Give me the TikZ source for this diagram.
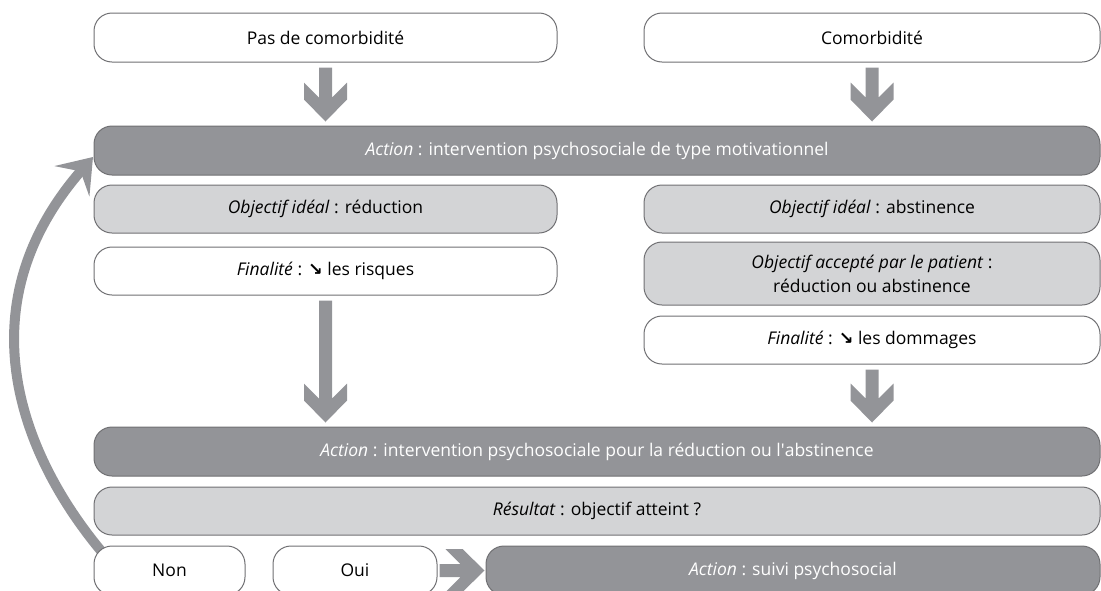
\documentclass[tikz,border=0pt]{standalone}
\usepackage{fontspec}
\setmainfont{Open Sans}
\newfontfamily\symfont{DejaVu Sans}
\usetikzlibrary{calc,arrows.meta}
\definecolor{actgray}{RGB}{147,148,152}
\definecolor{objgray}{RGB}{211,212,214}
\definecolor{linegray}{RGB}{112,112,115}
\tikzset{
  box/.style={draw=linegray, line width=1pt, rounded corners=18pt, minimum height=49pt,
    align=center, inner sep=0pt, font=\fontsize{17.5}{24}\selectfont},
  whitebox/.style={box, fill=white},
  objbox/.style={box, fill=objgray, minimum height=48pt},
  actbox/.style={box, fill=actgray, text=white},
  chev/.style={fill=actgray}
}
\newcommand{\down}{{\symfont\bfseries ↘}}
% thick down arrow from node #1 to node #2
\newcommand{\chevdown}[2]{%
  \coordinate (s) at ($(#1.south)+(0,5)$);
  \coordinate (t) at ($(#1.south |- #2.north)+(0,-4)$);
  \fill[chev] ($(s)+(-6.5,0)$) -- ($(t)+(-6.5,-24)$) -- ($(t)+(-21.5,-39)$) -- ($(t)+(-21.5,-22)$)
    -- (t) -- ($(t)+(21.5,-22)$) -- ($(t)+(21.5,-39)$) -- ($(t)+(6.5,-24)$) -- ($(s)+(6.5,0)$) -- cycle;}

\begin{document}
\begin{tikzpicture}[x=1pt, y=-1pt]
  \useasboundingbox (0,0) rectangle (1101,590);

  % back loop from Non
  \coordinate (loopstart) at (102,552);
  \coordinate (loopend) at (93,157);
  \draw[line width=10pt, actgray, -{Stealth[length=32pt, width=46pt, inset=13pt]}]
    (loopstart) .. controls (25,460) and (-40,310) .. (loopend);

  \node[whitebox, minimum width=463pt] (pas) at (325.5,37.5) {Pas de comorbidité};
  \node[whitebox, minimum width=456pt] (com) at (872,37.5) {Comorbidité};

  \node[actbox, minimum width=1006pt] (act1) at (597,150.5)
    {\textit{Action} : intervention psychosociale de type motivationnel};

  \node[objbox, minimum width=463pt] (objr) at (325.5,209) {\textit{Objectif idéal} : réduction};
  \node[objbox, minimum width=456pt] (obja) at (872,209) {\textit{Objectif idéal} : abstinence};
  \node[whitebox, minimum width=463pt, minimum height=48pt] (finr) at (325.5,271)
    {\textit{Finalité} : \down{} les risques};
  \node[objbox, minimum width=456pt, minimum height=63pt] (acc) at (872,273.5)
    {\textit{Objectif accepté par le patient} :\\ réduction ou abstinence};
  \node[whitebox, minimum width=456pt, minimum height=48pt] (find) at (872,340)
    {\textit{Finalité} : \down{} les dommages};

  \node[actbox, minimum width=1006pt] (act2) at (597,451.5)
    {\textit{Action} : intervention psychosociale pour la réduction ou l\textquotesingle abstinence};
  \node[objbox, minimum width=1006pt] (res) at (597,511) {\textit{Résultat} : objectif atteint ?};

  \node[whitebox, minimum width=151pt] (non) at (169.5,570.5) {Non};
  \node[whitebox, minimum width=164pt] (oui) at (355,570.5) {Oui};
  \node[actbox, minimum width=614pt] (suivi) at (793,570.5) {\textit{Action} : suivi psychosocial};

  \chevdown{pas}{act1}
  \chevdown{com}{act1}
  \chevdown{finr}{act2}
  \chevdown{find}{act2}

  % Oui -> suivi
  \coordinate (s) at ($(oui.east)+(2,0)$);
  \coordinate (t) at ($(suivi.west)+(-1,0)$);
  \fill[chev] ($(s)+(0,-6.5)$) -- ($(t)+(-24,-6.5)$) -- ($(t)+(-39,-21.5)$) -- ($(t)+(-22,-21.5)$)
    -- (t) -- ($(t)+(-22,21.5)$) -- ($(t)+(-39,21.5)$) -- ($(t)+(-24,6.5)$) -- ($(s)+(0,6.5)$) -- cycle;
\end{tikzpicture}
\end{document}
